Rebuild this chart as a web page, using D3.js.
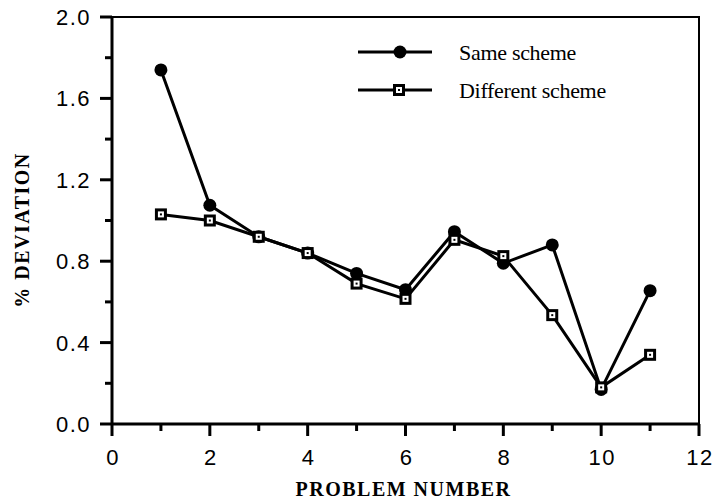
<!DOCTYPE html>
<meta charset="utf-8">
<script src="https://d3js.org/d3.v7.min.js"></script>
<style>
  body { margin: 0; background: #fff; }
</style>
<div id="chart"></div>
<script>

// data
var problems = [1, 2, 3, 4, 5, 6, 7, 8, 9, 10, 11];
var sameScheme = [1.74, 1.075, 0.92, 0.84, 0.74, 0.66, 0.945, 0.79, 0.88, 0.17, 0.655];
var diffScheme = [1.03, 1.0, 0.92, 0.84, 0.69, 0.615, 0.905, 0.825, 0.535, 0.18, 0.34];
var xTicks = [0, 2, 4, 6, 8, 10, 12];
var yTicks = [0.0, 0.4, 0.8, 1.2, 1.6, 2.0];
var xMinor = [1, 3, 5, 7, 9, 11];
var yMinor = [0.2, 0.6, 1.0, 1.4, 1.8];
var seriesNames = ["Same scheme", "Different scheme"];

var W = 715, H = 504;
var margin = {top: 17, right: 16, bottom: 80, left: 112},
    width = W - margin.left - margin.right,
    height = H - margin.top - margin.bottom;

var svg = d3.select("#chart").append("svg")
    .attr("width", W).attr("height", H);
var g = svg.append("g")
    .attr("transform", "translate(" + margin.left + "," + margin.top + ")");

var x = d3.scaleLinear().domain([0, 12]).range([0, width]);
var y = d3.scaleLinear().domain([0, 2]).range([height, 0]);

var sansFont = "'Liberation Sans', Arial, sans-serif";
var serifFont = "'Liberation Serif', 'Times New Roman', serif";

// frame
g.append("rect")
  .attr("width", width).attr("height", height)
  .attr("fill", "none").attr("stroke", "#000").attr("stroke-width", 2);

// x ticks (major + minor)
var xt = g.append("g").attr("class", "x-ticks");
xt.selectAll("line.major").data(xTicks).enter().append("line")
  .attr("class", "major")
  .attr("x1", function(d) { return x(d); }).attr("x2", function(d) { return x(d); })
  .attr("y1", height).attr("y2", height + 12)
  .attr("stroke", "#000").attr("stroke-width", 3);
xt.selectAll("line.minor").data(xMinor).enter().append("line")
  .attr("class", "minor")
  .attr("x1", function(d) { return x(d); }).attr("x2", function(d) { return x(d); })
  .attr("y1", height).attr("y2", height + 7)
  .attr("stroke", "#000").attr("stroke-width", 3);
xt.selectAll("text").data(xTicks).enter().append("text")
  .attr("x", function(d) { return x(d) + 1; })
  .attr("y", height + 41)
  .attr("text-anchor", "middle")
  .attr("font-family", sansFont).attr("font-size", "22px").attr("letter-spacing", "1.5px")
  .text(function(d) { return d3.format("d")(d); });

// y ticks (major + minor)
var yt = g.append("g").attr("class", "y-ticks");
yt.selectAll("line.major").data(yTicks).enter().append("line")
  .attr("class", "major")
  .attr("y1", function(d) { return y(d); }).attr("y2", function(d) { return y(d); })
  .attr("x1", -12).attr("x2", 0)
  .attr("stroke", "#000").attr("stroke-width", 3);
yt.selectAll("line.minor").data(yMinor).enter().append("line")
  .attr("class", "minor")
  .attr("y1", function(d) { return y(d); }).attr("y2", function(d) { return y(d); })
  .attr("x1", -7).attr("x2", 0)
  .attr("stroke", "#000").attr("stroke-width", 3);
yt.selectAll("text").data(yTicks).enter().append("text")
  .attr("x", -21)
  .attr("y", function(d) { return y(d) + 8; })
  .attr("text-anchor", "end")
  .attr("font-family", sansFont).attr("font-size", "22px").attr("letter-spacing", "1.5px")
  .text(function(d) { return d3.format(".1f")(d); });

// heavier left and bottom axis lines
g.append("line").attr("x1", 0).attr("x2", 0).attr("y1", 0).attr("y2", height)
  .attr("stroke", "#000").attr("stroke-width", 3);
g.append("line").attr("x1", 0).attr("x2", width).attr("y1", height).attr("y2", height)
  .attr("stroke", "#000").attr("stroke-width", 3);

// lines
var line = d3.line().x(function(d) { return x(d[0]); }).y(function(d) { return y(d[1]); });
var sameData = problems.map(function(p, i) { return [p, sameScheme[i]]; });
var diffData = problems.map(function(p, i) { return [p, diffScheme[i]]; });

g.append("path").datum(diffData).attr("d", line)
  .attr("fill", "none").attr("stroke", "#000").attr("stroke-width", 3);
g.append("path").datum(sameData).attr("d", line)
  .attr("fill", "none").attr("stroke", "#000").attr("stroke-width", 3);

function drawSquare(sel, cx, cy) {
  sel.append("rect").attr("x", cx - 6).attr("y", cy - 6).attr("width", 12).attr("height", 12)
    .attr("fill", "#000");
  sel.append("rect").attr("x", cx - 3).attr("y", cy - 3).attr("width", 6).attr("height", 6)
    .attr("fill", "#fff");
  sel.append("rect").attr("x", cx - 1).attr("y", cy - 1).attr("width", 2).attr("height", 2)
    .attr("fill", "#000");
}

// circles
g.selectAll(".same").data(sameData).enter().append("circle")
  .attr("class", "same")
  .attr("cx", function(d) { return x(d[0]); })
  .attr("cy", function(d) { return y(d[1]); })
  .attr("r", 6.5).attr("fill", "#000");

// squares
var sq = g.append("g");
diffData.forEach(function(d) { drawSquare(sq, x(d[0]), y(d[1])); });

// legend
var leg = svg.append("g");
var legY = [52, 90];
seriesNames.forEach(function(name, i) {
  leg.append("line").attr("x1", 358).attr("x2", 432).attr("y1", legY[i]).attr("y2", legY[i])
    .attr("stroke", "#000").attr("stroke-width", 3);
  if (i === 0) leg.append("circle").attr("cx", 400).attr("cy", legY[i]).attr("r", 6.5).attr("fill", "#000");
  else drawSquare(leg, 399, legY[i]);
  leg.append("text").attr("x", 459).attr("y", legY[i] + 8)
    .attr("font-family", serifFont)
    .attr("font-size", "22px").attr("letter-spacing", "-0.3px").text(name);
});

// axis titles
svg.append("text")
  .attr("x", margin.left + width / 2 - 2).attr("y", 496)
  .attr("text-anchor", "middle")
  .attr("font-family", serifFont).attr("font-weight", "bold")
  .attr("font-size", "20px").attr("letter-spacing", "1.5px")
  .text("PROBLEM NUMBER");

svg.append("text")
  .attr("transform", "translate(29,230) rotate(-90)")
  .attr("text-anchor", "middle")
  .attr("font-family", serifFont).attr("font-weight", "bold")
  .attr("font-size", "20px").attr("letter-spacing", "1.5px")
  .text("% DEVIATION");

</script>
